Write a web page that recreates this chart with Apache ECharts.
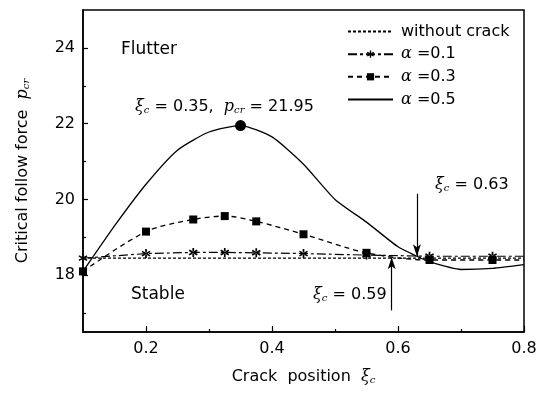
<!DOCTYPE html>
<html>
<head>
<meta charset="utf-8">
<script src="https://cdn.jsdelivr.net/npm/echarts@6/dist/echarts.min.js"></script>
<style>
  html, body { margin: 0; padding: 0; background: #fff; }
  #chart { width: 553px; height: 393px; }
</style>
</head>
<body>
<div id="chart"></div>
<script>
// tick positions
const xTicks = [0.2, 0.4, 0.6, 0.8];
const xMinorTicks = [0.3, 0.5, 0.7];
const yTicks = [18, 20, 22, 24];
const yMinorTicks = [17, 19, 21, 23];

// series values [crack position, critical force]
const withoutCrack = [[0.1, 18.45], [0.8, 18.45]];
const alpha01 = [[0.1, 18.45], [0.2, 18.57], [0.275, 18.6], [0.325, 18.6], [0.375, 18.59],
  [0.45, 18.57], [0.55, 18.53], [0.65, 18.5], [0.75, 18.5], [0.8, 18.5]];
const alpha03 = [[0.1, 18.1], [0.2, 19.15], [0.275, 19.47], [0.325, 19.56], [0.375, 19.42],
  [0.45, 19.08], [0.55, 18.59], [0.65, 18.4], [0.75, 18.4], [0.8, 18.4]];
const alpha05 = [[0.1, 18.1], [0.15, 19.3], [0.2, 20.4], [0.25, 21.3], [0.3, 21.78], [0.35, 21.95],
  [0.4, 21.65], [0.45, 20.93], [0.5, 20.0], [0.55, 19.4], [0.6, 18.75], [0.63, 18.5],
  [0.65, 18.35], [0.7, 18.15], [0.75, 18.18], [0.8, 18.28]];
const peak = [0.35, 21.95];

// arrows: [x, from y, to y]
const arrows = [[0.63, 20.15, 18.5], [0.59, 17.07, 18.47]];

const FONT = 'DejaVu Sans';
const starPath = 'path://M-0.9,-5L0.9,-5L0.9,5L-0.9,5Z' +
  'M3.88,3.28L4.78,1.72L-3.88,-3.28L-4.78,-1.72Z' +
  'M4.78,-1.72L3.88,-3.28L-4.78,1.72L-3.88,3.28Z';

const rich = {
  g: { fontFamily: 'DejaVu Serif', fontStyle: 'italic', fontSize: 16, color: '#000' },
  s: { fontFamily: 'DejaVu Serif', fontStyle: 'italic', fontSize: 10, color: '#000',
       verticalAlign: 'bottom', padding: [7, 0, 0, 0] },
  t: { fontFamily: FONT, fontSize: 16, color: '#000' }
};

const chart = echarts.init(document.getElementById('chart'));

const baseX = { type: 'value', min: 0.1, max: 0.8, position: 'bottom', gridIndex: 0 };
const baseY = { type: 'value', min: 16.5, max: 25, position: 'left', gridIndex: 0 };

const option = {
  backgroundColor: '#fff',
  animation: false,
  grid: {
    left: 83, right: 29, top: 10, bottom: 61,
    show: true, borderColor: '#000', borderWidth: 1.5
  },
  legend: {
    orient: 'vertical',
    left: 347, top: 23.6, padding: 0,
    itemWidth: 45, itemHeight: 9, itemGap: 6.6,
    data: [
      { name: 'without crack', itemStyle: { opacity: 0 } },
      { name: 'α =0.1' },
      { name: 'α =0.3' },
      { name: 'α =0.5', itemStyle: { opacity: 0 } }
    ],
    formatter: name => name.startsWith('α')
      ? '{g|α} {t|' + name.slice(2) + '}'
      : '{t|' + name + '}',
    textStyle: { fontFamily: FONT, fontSize: 16, color: '#000', padding: [0, 0, 0, 3], rich: rich }
  },
  xAxis: [
    Object.assign({}, baseX, {
      name: '{t|Crack  position  }{g|ξ}{s|c}',
      nameLocation: 'middle', nameGap: 36,
      nameTextStyle: { rich: rich },
      axisLine: { show: true, lineStyle: { color: '#000', width: 1.5 } },
      axisTick: { show: true, inside: true, length: 6, customValues: xTicks, lineStyle: { color: '#000', width: 1.2 } },
      axisLabel: { customValues: xTicks, color: '#000', fontFamily: FONT, fontSize: 16, margin: 9,
        formatter: v => v.toFixed(1) },
      splitLine: { show: false }
    }),
    Object.assign({}, baseX, {
      axisLine: { show: false },
      axisTick: { show: true, inside: true, length: 3, customValues: xMinorTicks, lineStyle: { color: '#000', width: 1.2 } },
      axisLabel: { show: false },
      splitLine: { show: false }
    })
  ],
  yAxis: [
    Object.assign({}, baseY, {
      name: '{t|Critical follow force  }{g|p}{s|cr}',
      nameLocation: 'middle', nameGap: 52, nameRotate: 90,
      nameTextStyle: { rich: rich },
      axisLine: { show: true, lineStyle: { color: '#000', width: 1.5 } },
      axisTick: { show: true, inside: true, length: 5, customValues: yTicks, lineStyle: { color: '#000', width: 1.2 } },
      axisLabel: { customValues: yTicks, color: '#000', fontFamily: FONT, fontSize: 16, margin: 8 },
      splitLine: { show: false }
    }),
    Object.assign({}, baseY, {
      axisLine: { show: false },
      axisTick: { show: true, inside: true, length: 3, customValues: yMinorTicks, lineStyle: { color: '#000', width: 1.2 } },
      axisLabel: { show: false },
      splitLine: { show: false }
    })
  ],
  series: [
    {
      name: 'without crack',
      type: 'line',
      data: withoutCrack,
      symbol: 'none',
      lineStyle: { color: '#000', width: 1.3, type: [3, 2] },
      itemStyle: { color: '#000' },
      markLine: {
        silent: true,
        symbol: ['none', 'arrow'],
        symbolSize: [6, 12],
        label: { show: false },
        lineStyle: { color: '#000', width: 1.2, type: 'solid' },
        data: arrows.map(a => [{ coord: [a[0], a[1]] }, { coord: [a[0], a[2]] }])
      }
    },
    {
      name: 'α =0.1',
      type: 'line',
      data: alpha01.map((p, i) => i === alpha01.length - 1 ? { value: p, symbol: 'none' } : p),
      symbol: starPath,
      symbolSize: 9,
      lineStyle: { color: '#000', width: 1.2, type: [9, 3, 3, 3] },
      itemStyle: { color: '#000' }
    },
    {
      name: 'α =0.3',
      type: 'line',
      smooth: 0.3,
      data: alpha03.map((p, i) => i === alpha03.length - 1 ? { value: p, symbol: 'none' } : p),
      symbol: 'rect',
      symbolSize: 8,
      lineStyle: { color: '#000', width: 1.3, type: [5, 4] },
      itemStyle: { color: '#000' }
    },
    {
      name: 'α =0.5',
      type: 'line',
      smooth: 0.2,
      data: alpha05,
      symbol: 'none',
      lineStyle: { color: '#000', width: 1.3 },
      itemStyle: { color: '#000' },
      markPoint: {
        silent: true,
        symbol: 'circle',
        symbolSize: 11,
        itemStyle: { color: '#000' },
        label: { show: false },
        data: [{ coord: peak }]
      }
    }
  ],
  graphic: [
    { type: 'text', x: 121, y: 50, style: { text: 'Flutter', font: '17px "DejaVu Sans"', fill: '#000', verticalAlign: 'middle' } },
    { type: 'text', x: 131, y: 295, style: { text: 'Stable', font: '17px "DejaVu Sans"', fill: '#000', verticalAlign: 'middle' } },
    { type: 'text', x: 135, y: 107, style: { text: '{g|ξ}{s|c}{t| = 0.35,  }{g|p}{s|cr}{t| = 21.95}', rich: rich, verticalAlign: 'middle' } },
    { type: 'text', x: 435, y: 185, style: { text: '{g|ξ}{s|c}{t| = 0.63}', rich: rich, verticalAlign: 'middle' } },
    { type: 'text', x: 313, y: 295, style: { text: '{g|ξ}{s|c}{t| = 0.59}', rich: rich, verticalAlign: 'middle' } }
  ]
};

chart.setOption(option);
</script>
</body>
</html>
